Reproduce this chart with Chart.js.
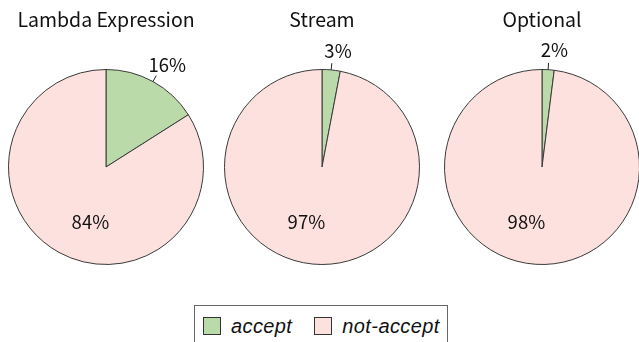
<!DOCTYPE html>
<html>
<head>
<meta charset="utf-8">
<script src="https://cdn.jsdelivr.net/npm/chart.js@4.4.1/dist/chart.umd.min.js"></script>
<style>
  html, body { margin: 0; padding: 0; background: #fff; overflow: hidden; }
  body { width: 639px; height: 342px; position: relative; font-family: "Noto Sans CJK JP", "Noto Sans", sans-serif; }
  .pie { position: absolute; top: 0; width: 216px; height: 300px; }
  #legend {
    position: absolute; left: 194px; top: 305px; width: 254px; height: 42px;
    border: 1px solid #666; box-sizing: border-box;
    display: flex; align-items: center;
    font-family: "Liberation Sans", Arial, sans-serif; font-style: italic; font-size: 20px; color: #111;
    letter-spacing: 0.4px;
  }
  .item { display: flex; align-items: center; margin-left: 8px; }
  .swatch { width: 18px; height: 18px; border: 1px solid #333; box-sizing: border-box; margin-right: 10px; }
</style>
</head>
<body>
<div class="pie" style="left:-2px"><canvas id="pie0"></canvas></div>
<div class="pie" style="left:214px"><canvas id="pie1"></canvas></div>
<div class="pie" style="left:434px"><canvas id="pie2"></canvas></div>
<div id="legend"></div>

<script>
// survey results per feature (percent)
const titles = ["Lambda Expression", "Stream", "Optional"];
const categories = ["accept", "not-accept"];
const acceptValues = [16, 3, 2];
const notAcceptValues = [84, 97, 98];

const sliceColors = ["#badba9", "#fde1de"];
const edgeColor = "#3a3a3a";
const textColor = "#111";
const font = '"Noto Sans CJK JP", "Noto Sans", sans-serif';

// draws the title and the percent labels (small slice outside with a leader, big slice inside)
const pieLabels = {
  id: "pieLabels",
  afterDraw(chart, args, opts) {
    const ctx = chart.ctx;
    const meta = chart.getDatasetMeta(0);
    const data = chart.data.datasets[0].data;
    const total = data.reduce((a, b) => a + b, 0);

    ctx.save();
    ctx.fillStyle = textColor;
    ctx.textAlign = "center";
    ctx.textBaseline = "middle";
    ctx.font = "19.5px " + font;
    ctx.fillText(opts.title, chart.width / 2, 20);

    ctx.font = "18.5px " + font;
    meta.data.forEach((arc, i) => {
      const p = arc.getProps(["x", "y", "startAngle", "endAngle", "outerRadius"], true);
      const mid = (p.startAngle + p.endAngle) / 2;
      const cos = Math.cos(mid), sin = Math.sin(mid);
      const pct = Math.round(data[i] / total * 100) + "%";
      const r = p.outerRadius;
      if (i === 0) {
        // leader line from the rim
        ctx.strokeStyle = "#222";
        ctx.lineWidth = 1;
        ctx.beginPath();
        ctx.moveTo(p.x + cos * r * 1.0, p.y + sin * r * 1.0);
        ctx.lineTo(p.x + cos * r * 1.07, p.y + sin * r * 1.07);
        ctx.stroke();
        ctx.fillText(pct, p.x + cos * r * 1.2 + 5, p.y + sin * r * 1.2);
      } else {
        ctx.fillText(pct, p.x - r * 0.16, p.y + r * 0.56);
      }
    });
    ctx.restore();
  }
};

titles.forEach((title, k) => {
  new Chart(document.getElementById("pie" + k), {
    type: "pie",
    data: {
      labels: categories,
      datasets: [{
        data: [acceptValues[k], notAcceptValues[k]],
        backgroundColor: sliceColors,
        borderColor: edgeColor,
        borderWidth: 1
      }]
    },
    options: {
      responsive: true,
      maintainAspectRatio: false,
      animation: false,
      layout: { padding: { top: 69, bottom: 35, left: 10, right: 10 } },
      plugins: {
        legend: { display: false },
        tooltip: { enabled: false },
        pieLabels: { title: title }
      }
    },
    plugins: [pieLabels]
  });
});

// legend box under the pies
const legend = document.getElementById("legend");
categories.forEach((name, i) => {
  const item = document.createElement("div");
  item.className = "item";
  if (i > 0) item.style.marginLeft = "22px";
  const sw = document.createElement("div");
  sw.className = "swatch";
  sw.style.background = sliceColors[i];
  const label = document.createElement("span");
  label.textContent = name;
  item.appendChild(sw);
  item.appendChild(label);
  legend.appendChild(item);
});
</script>
</body>
</html>
